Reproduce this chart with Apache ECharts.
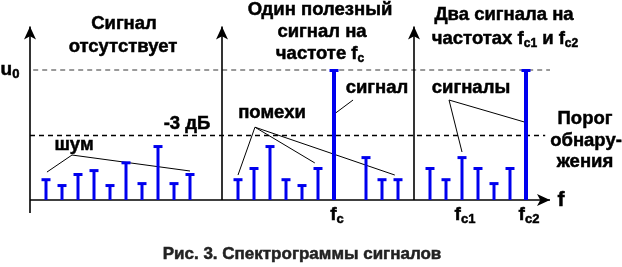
<!DOCTYPE html>
<html>
<head>
<meta charset="utf-8">
<script src="https://cdn.jsdelivr.net/npm/echarts@6/dist/echarts.min.js"></script>
<style>
html,body{margin:0;padding:0;background:#fff;}
#c{width:622px;height:267px;}
</style>
</head>
<body>
<div id="c"></div>
<script>
// ---- data (x: spectral line index, y: amplitude relative to u0) ----
const noise1Pos = [0, 1, 2, 3, 4, 5, 6, 7, 8, 9];
const noise1Val = [0.16, 0.115, 0.2, 0.23, 0.115, 0.29, 0.13, 0.415, 0.13, 0.2];
const noise2Pos = [12, 13, 14, 15, 16, 17, 20, 21, 22];
const noise2Val = [0.16, 0.246, 0.415, 0.16, 0.115, 0.246, 0.33, 0.16, 0.16];
const noise3Pos = [24, 25, 26, 27, 28, 29];
const noise3Val = [0.246, 0.16, 0.33, 0.246, 0.13, 0.246];
const signalPos = [18, 30];
const signalVal = [1, 1];
const panelAxesX = [-1, 11, 23];
const levelU0 = 1;
const level3dB = 0.5;
const tickLabels = [
  {x: 18, text: '{m|f}{s|c}'},
  {x: 26, text: '{m|f}{s|c1}'},
  {x: 30, text: '{m|f}{s|c2}'}
];

const BLUE = '#0000ee';
const FONT = '"Liberation Sans", Arial, sans-serif';

function zip(p, v) { return p.map((x, i) => [x, v[i]]); }

function stemItem(w) {
  return function (params, api) {
    const x = api.value(0), y = api.value(1);
    const p0 = api.coord([x, 0]);
    const p1 = api.coord([x, y]);
    return {
      type: 'group',
      children: [
        {type: 'rect', shape: {x: p0[0] - w / 2, y: p1[1], width: w, height: p0[1] - p1[1]}, style: {fill: BLUE}},
        {type: 'rect', shape: {x: p1[0] - 4.5, y: p1[1] - 1, width: 9, height: 3}, style: {fill: BLUE}}
      ]
    };
  };
}

const chart = echarts.init(document.getElementById('c'), null, {renderer: 'canvas'});

const blackLine = {color: '#000', width: 1.6, type: 'solid'};
const leader = {color: '#000', width: 1, type: 'solid'};

const option = {
  animation: false,
  grid: {left: 30, right: 72, top: 26.45, bottom: 54},
  xAxis: {type: 'value', min: -1, max: 31.5, show: false},
  yAxis: {type: 'value', min: -0.1, max: 1.335, show: false},
  series: [
    {
      type: 'custom', renderItem: stemItem(3), data: zip(noise1Pos, noise1Val).concat(zip(noise2Pos, noise2Val), zip(noise3Pos, noise3Val)),
      z: 5, silent: true, clip: false
    },
    {
      type: 'custom', renderItem: stemItem(4), data: zip(signalPos, signalVal), z: 5, silent: true, clip: false
    },
    {
      type: 'line', data: [], silent: true,
      markLine: {
        silent: true, animation: false, symbol: 'none', label: {show: false}, emphasis: {disabled: true},
        data: [
          // threshold lines
          [{coord: [-0.8, levelU0], lineStyle: {color: '#7a7a7a', width: 1.5, type: [5, 4]}}, {coord: [31.5, levelU0]}],
          [{coord: [-1, level3dB], lineStyle: {color: '#000', width: 1.3, type: [5, 4]}}, {coord: [31.2, level3dB]}],
          // baseline with arrow
          [{coord: [-1, 0], symbol: 'none', lineStyle: blackLine}, {coord: [31.5, 0], symbol: 'arrow', symbolSize: [9, 13]}],
          // vertical axes
          ...panelAxesX.map((x, i) => [
            {coord: [x, i === 0 ? -0.1 : 0], symbol: 'none', lineStyle: blackLine},
            {coord: [x, 1.335], symbol: 'arrow', symbolSize: [9, 13]}
          ]),
          // leaders: шум
          [{coord: [1.625, 0.346], lineStyle: leader}, {coord: [0.06, 0.215]}],
          [{coord: [1.625, 0.346], lineStyle: leader}, {coord: [9, 0.223]}],
          // помехи
          [{coord: [13.06, 0.56], lineStyle: leader}, {coord: [12, 0.192]}],
          [{coord: [13.06, 0.56], lineStyle: leader}, {coord: [16.8, 0.285]}],
          [{coord: [13.06, 0.56], lineStyle: leader}, {coord: [21.8, 0.192]}],
          // сигнал
          [{coord: [19.19, 0.769], lineStyle: leader}, {coord: [18.1, 0.669]}],
          // сигналы
          [{coord: [25.19, 0.769], lineStyle: leader}, {coord: [26, 0.369]}],
          [{coord: [25.19, 0.769], lineStyle: leader}, {coord: [29.9, 0.6]}]
        ]
      }
    }
  ]
};
chart.setOption(option);

const SW = 0.5;
function txt(x, y, text, size, extra) {
  const fill = (extra && extra.fill) || '#000';
  return {
    type: 'text', x: x, y: y, z: 10, silent: true,
    style: Object.assign({
      text: text, fontSize: size || 18, fontWeight: 'bold', fontFamily: FONT, fill: fill,
      stroke: fill, lineWidth: SW,
      align: 'center', verticalAlign: 'middle'
    }, extra || {})
  };
}
const subRich = function (main, sub) {
  return {
    m: {fontSize: main, fontWeight: 'bold', fontFamily: FONT, fill: '#000', stroke: '#000', lineWidth: SW, lineHeight: 22},
    s: {fontSize: sub, fontWeight: 'bold', fontFamily: FONT, fill: '#000', stroke: '#000', lineWidth: SW, lineHeight: sub, verticalAlign: 'bottom'}
  };
};

const T = 18.5;
const g = [
  txt(124, 24, 'Сигнал', T),
  txt(123, 47, 'отсутствует', T),
  txt(320, 10, 'Один полезный', T),
  txt(322, 32, 'сигнал на', T),
  txt(320, 54, '{m|частоте f}{s|c}', T, {rich: subRich(T, 12)}),
  txt(504, 15, 'Два сигнала на', T),
  txt(505, 39, '{m|частотах f}{s|c1}{m| и f}{s|c2}', T, {rich: subRich(T, 12)}),
  txt(10, 70, '{m|u}{s|0}', 19, {rich: subRich(19, 13)}),
  txt(187, 124, '-3 дБ', T),
  txt(74, 145, 'шум', T),
  txt(272, 113, 'помехи', T),
  txt(377, 88, 'сигнал', T),
  txt(471, 88, 'сигналы', T),
  txt(585, 119, 'Порог', T),
  txt(586, 140.5, 'обнару-', T),
  txt(585, 162, 'жения', T),
  txt(561, 200, 'f', 21),
  txt(302, 254, 'Рис. 3. Спектрограммы сигналов', 17, {fill: '#222'})
];
tickLabels.forEach(t => {
  const p = chart.convertToPixel({gridIndex: 0}, [t.x, 0]);
  g.push(txt(p[0] + 3, 215, t.text, 19, {rich: subRich(19, 13)}));
});
chart.setOption({graphic: {elements: g}});
</script>
</body>
</html>
